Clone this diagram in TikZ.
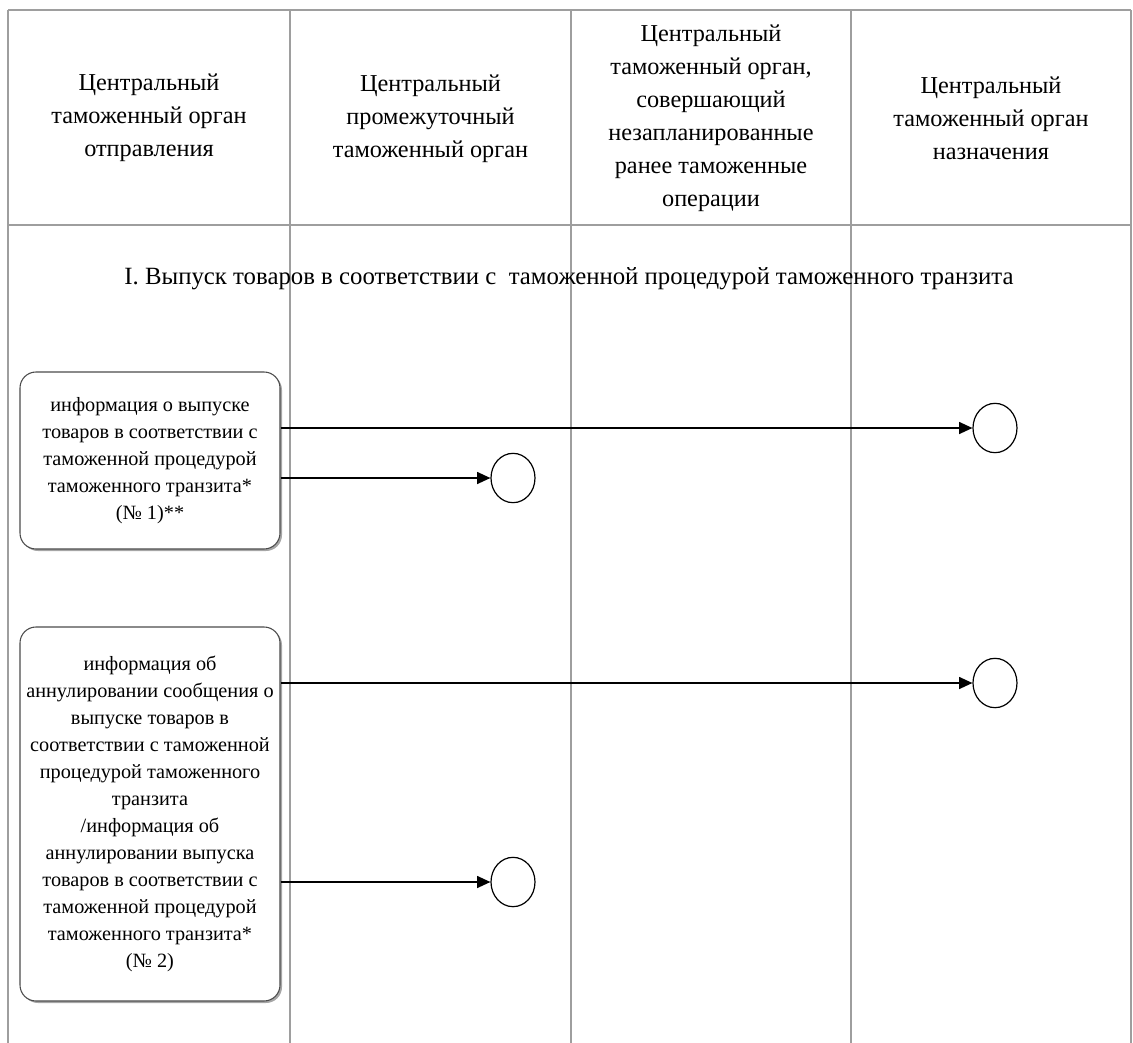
\documentclass[tikz,border=0pt]{standalone}
\usepackage{fontspec}
\setmainfont{Liberation Serif}
\usetikzlibrary{arrows.meta,shapes.geometric,shadows}
\begin{document}
\begin{tikzpicture}[x=0.75pt,y=-0.75pt,
  grid/.style={draw=black!38, line width=1.1pt},
  headtext/.style={align=center, font=\fontsize{18.2}{24.75}\selectfont, inner sep=0pt},
  titletext/.style={font=\fontsize{18.6}{22}\selectfont, inner sep=0pt},
  msgbox/.style={draw=black!70, line width=0.8pt, rounded corners=12pt, fill=white, align=center,
    minimum width=195pt, inner sep=0pt, font=\fontsize{15.2}{20.3}\selectfont,
    drop shadow={shadow xshift=1.5pt, shadow yshift=-1.5pt, opacity=0.35, fill=black}},
  evt/.style={draw=black, line width=0.9pt, ellipse, minimum width=33pt, minimum height=37pt, inner sep=0pt},
  arr/.style={draw=black, line width=1.1pt, -{Triangle[length=10pt,width=9pt]}}
]
\useasboundingbox (0,0) rectangle (1133,1043);
% table grid
\draw[grid] (8,10) -- (1131,10);
\draw[grid] (8,225) -- (1131,225);
\foreach \xx in {8,290,571,851,1131} {\draw[grid] (\xx,10) -- (\xx,1043);}
% headers
\node[headtext] (h1) at (149,118) {Центральный\\таможенный орган\\отправления};
\node[headtext] (h2) at (430.5,119) {Центральный\\промежуточный\\таможенный орган};
\node[headtext] (h3) at (711,118) {Центральный\\таможенный орган,\\совершающий\\незапланированные\\ранее таможенные\\операции};
\node[headtext] (h4) at (991,118) {Центральный\\таможенный орган\\назначения};
% section title
\node[titletext] (t1) at (569,279) {I. Выпуск товаров в соответствии с\ \ таможенной процедурой таможенного транзита};
% message boxes
\node[msgbox, minimum height=132.75pt] (b1) at (150,460.5) {информация о выпуске\\товаров в соответствии с\\таможенной процедурой\\таможенного транзита*\\(№ 1)**};
\node[msgbox, minimum height=280.5pt] (b2) at (150,814) {информация об\\аннулировании сообщения о\\выпуске товаров в\\соответствии с таможенной\\процедурой таможенного\\транзита\\/информация об\\аннулировании выпуска\\товаров в соответствии с\\таможенной процедурой\\таможенного транзита*\\(№ 2)};
% events
\node[evt] (c1) at (995,428) {};
\node[evt] (c2) at (513,478) {};
\node[evt] (c3) at (995,683) {};
\node[evt] (c4) at (513,882) {};
% connectors
\draw[arr] (b1.east |- c1) -- (c1);
\draw[arr] (b1.east |- c2) -- (c2);
\draw[arr] (b2.east |- c3) -- (c3);
\draw[arr] (b2.east |- c4) -- (c4);
\end{tikzpicture}
\end{document}
